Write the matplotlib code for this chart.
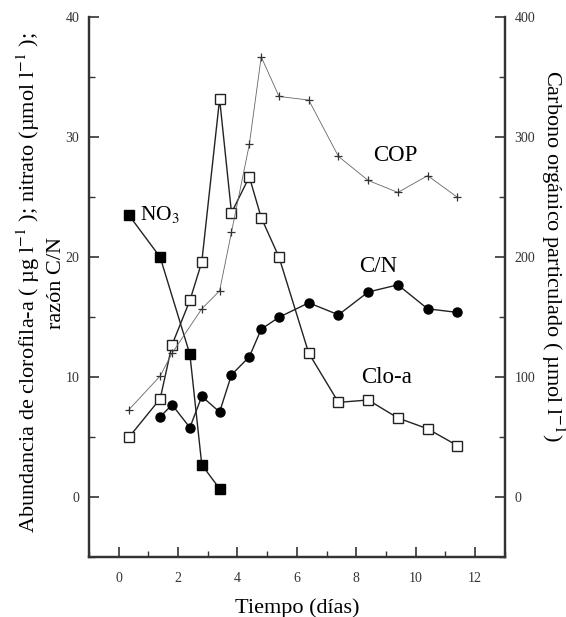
import matplotlib
matplotlib.use('Agg')
import matplotlib.pyplot as plt
from matplotlib.ticker import MultipleLocator

plt.rcParams['font.family'] = ['Liberation Serif', 'DejaVu Serif']
plt.rcParams['mathtext.fontset'] = 'stix'

# time axis (days)
t_clo = [0.35, 1.4, 1.8, 2.4, 2.8, 3.4, 3.8, 4.4, 4.8, 5.4, 6.4, 7.4, 8.4, 9.4, 10.4, 11.4]
clo_a = [5.0, 8.2, 12.7, 16.4, 19.6, 33.2, 23.7, 26.7, 23.3, 20.0, 12.0, 7.9, 8.1, 6.6, 5.7, 4.3]

t_no3 = [0.35, 1.4, 2.4, 2.8, 3.4]
no3 = [23.5, 20.0, 11.9, 2.7, 0.7]

t_cn = [1.4, 1.8, 2.4, 2.8, 3.4, 3.8, 4.4, 4.8, 5.4, 6.4, 7.4, 8.4, 9.4, 10.4, 11.4]
cn = [6.7, 7.7, 5.8, 8.4, 7.1, 10.2, 11.7, 14.0, 15.0, 16.2, 15.2, 17.1, 17.7, 15.7, 15.4]

t_cop = [0.35, 1.4, 1.8, 2.8, 3.4, 3.8, 4.4, 4.8, 5.4, 6.4, 7.4, 8.4, 9.4, 10.4, 11.4]
cop = [73, 101, 120, 157, 172, 221, 294, 367, 334, 331, 284, 264, 254, 268, 250]

fig = plt.figure(figsize=(5.66, 6.17), dpi=100)
ax = fig.add_axes([0.157, 0.097, 0.735, 0.875])
ax2 = ax.twinx()

ax.plot(t_no3, no3, color='#222222', lw=1.0, marker='s', ms=6.5,
        mfc='black', mec='black', zorder=3)
ax.plot(t_cn, cn, color='#222222', lw=1.0, marker='o', ms=6.5,
        mfc='black', mec='black', zorder=3)
ax.plot(t_clo, clo_a, color='#222222', lw=1.0, marker='s', ms=6.5,
        mfc='white', mec='#222222', mew=1.0, zorder=4)
ax2.plot(t_cop, cop, color='#666666', lw=0.6, marker='+', ms=6,
         mec='#333333', mew=0.9)

ax.set_xlim(-1, 13)
ax.set_ylim(-5, 40)
ax2.set_ylim(-50, 400)

ax.xaxis.set_major_locator(MultipleLocator(2))
ax.xaxis.set_minor_locator(MultipleLocator(1))
ax.yaxis.set_major_locator(MultipleLocator(10))
ax.yaxis.set_minor_locator(MultipleLocator(5))
ax2.yaxis.set_major_locator(MultipleLocator(100))
ax2.yaxis.set_minor_locator(MultipleLocator(50))

for a in (ax, ax2):
    a.spines['top'].set_visible(False)
    for s in ('left', 'right', 'bottom'):
        a.spines[s].set_linewidth(1.6)
        a.spines[s].set_color('#333333')
    a.tick_params(which='major', direction='in', length=7, width=1.2,
                  labelsize=10, colors='#333333', pad=7)
    a.tick_params(which='minor', direction='in', length=4, width=1.0,
                  colors='#333333')
ax.tick_params(axis='y', which='both', right=False)
ax.tick_params(axis='x', which='major', pad=11)

# labels on the lines
ax.text(0.71, 23.6, 'NO$_3$', fontsize=15.5, va='center', ha='left')
ax.text(9.3, 28.5, 'COP', fontsize=16.5, va='center', ha='center')
ax.text(8.73, 19.2, 'C/N', fontsize=16.5, va='center', ha='center')
ax.text(9.03, 10.0, 'Clo-a', fontsize=16.5, va='center', ha='center')

ax.set_xlabel('Tiempo (días)', fontsize=16, labelpad=9)
fig.text(0.071, 0.541,
         'Abundancia de clorofila-a ( µg l$^{-1}$ ); nitrato (µmol l$^{-1}$ );\nrazón C/N',
         fontsize=16, rotation=90, ha='center', va='center', linespacing=1.35)
fig.text(0.977, 0.585, 'Carbono orgánico particulado ( µmol l$^{-1}$)',
         fontsize=16, rotation=270, ha='center', va='center')

fig.savefig('out.png', dpi=100)
